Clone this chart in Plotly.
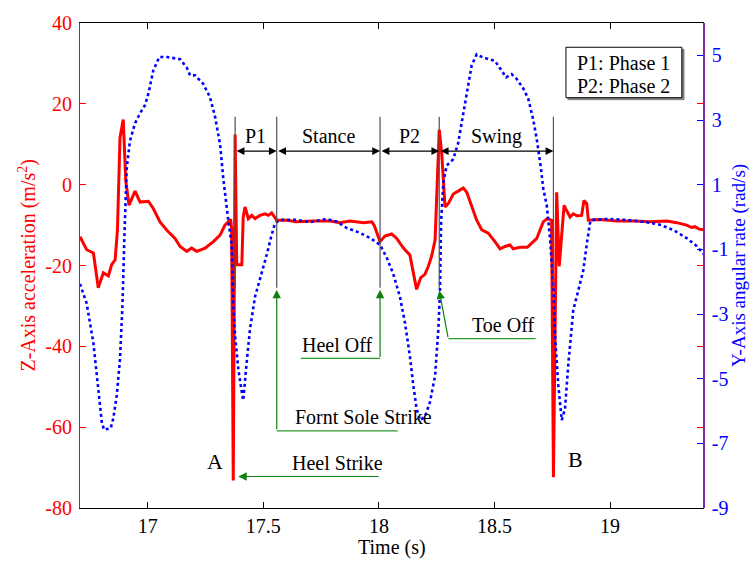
import plotly.graph_objects as go

# Z-axis acceleration (m/s^2) over time (s)
time_acc = [16.707, 16.736, 16.765, 16.786, 16.808, 16.830, 16.844, 16.859, 16.869, 16.880,
            16.894, 16.905, 16.919, 16.945, 16.967, 17.003, 17.024, 17.053, 17.082, 17.118,
            17.140, 17.169, 17.190, 17.212, 17.248, 17.284, 17.313, 17.334, 17.359, 17.363,
            17.370, 17.378, 17.385, 17.407, 17.413, 17.421, 17.435, 17.450, 17.464, 17.486,
            17.507, 17.522, 17.536, 17.558, 17.601, 17.644, 17.716, 17.788, 17.832, 17.875,
            17.933, 17.969, 17.979, 18.005, 18.026, 18.055, 18.077, 18.106, 18.134, 18.146,
            18.163, 18.181, 18.199, 18.214, 18.228, 18.243, 18.250, 18.261, 18.272, 18.279,
            18.286, 18.300, 18.322, 18.343, 18.365, 18.380, 18.401, 18.423, 18.445, 18.473,
            18.502, 18.524, 18.546, 18.567, 18.581, 18.610, 18.642, 18.661, 18.683, 18.697,
            18.711, 18.728, 18.747, 18.755, 18.769, 18.780, 18.801, 18.812, 18.827, 18.841,
            18.856, 18.877, 18.887, 18.899, 18.906, 18.957, 19.029, 19.100, 19.173, 19.245,
            19.288, 19.331, 19.353, 19.367, 19.385, 19.404]
acc_z = [-12.9, -16.1, -16.9, -25.5, -21.8, -22.6, -19.8, -18.6, -11.2, 11.6,
         16.1, 1.0, -5.1, -1.6, -4.3, -4.1, -5.9, -9.2, -11.2, -13.3,
         -15.3, -16.5, -15.7, -16.5, -15.7, -14.1, -12.5, -10.0, -8.6, -11.2,
         -73.2, 12.4, -19.8, -19.8, -8.0, -5.5, -8.4, -7.6, -8.4, -7.6,
         -7.2, -7.6, -7.0, -8.8, -8.8, -9.2, -9.0, -9.0, -9.4, -9.0,
         -9.4, -9.2, -10.0, -14.1, -12.7, -12.2, -13.3, -15.7, -17.4, -21.0,
         -25.9, -23.0, -22.2, -20.2, -17.7, -13.7, -4.7, 13.6, 7.5, 0.2,
         -5.5, -4.7, -2.3, -1.6, -0.8, -1.9, -5.5, -8.8, -11.2, -12.0,
         -14.1, -15.9, -15.3, -14.9, -15.9, -15.5, -15.5, -14.5, -13.3, -11.2,
         -9.2, -8.4, -8.8, -72.4, -1.9, -20.2, -5.1, -6.4, -8.0, -7.2,
         -7.7, -7.6, -3.9, -4.7, -8.8, -8.6, -9.0, -9.0, -9.2, -9.0,
         -9.4, -10.0, -10.6, -10.4, -11.0, -11.1]

# Y-axis angular rate (rad/s) over time (s)
time_gyro = [16.707, 16.736, 16.765, 16.786, 16.801, 16.811, 16.840, 16.851, 16.866, 16.880,
             16.891, 16.898, 16.909, 16.923, 16.945, 16.967, 16.988, 17.003, 17.024, 17.050,
             17.082, 17.140, 17.169, 17.183, 17.205, 17.240, 17.269, 17.291, 17.313, 17.327,
             17.339, 17.349, 17.363, 17.370, 17.378, 17.392, 17.407, 17.413, 17.428, 17.442,
             17.464, 17.493, 17.515, 17.536, 17.551, 17.572, 17.644, 17.702, 17.774, 17.817,
             17.861, 17.918, 17.962, 18.005, 18.034, 18.062, 18.091, 18.113, 18.134, 18.149,
             18.163, 18.178, 18.199, 18.221, 18.243, 18.257, 18.264, 18.269, 18.279, 18.293,
             18.322, 18.343, 18.365, 18.382, 18.401, 18.423, 18.452, 18.502, 18.524, 18.550,
             18.574, 18.596, 18.625, 18.646, 18.668, 18.683, 18.701, 18.711, 18.726, 18.740,
             18.755, 18.762, 18.776, 18.791, 18.805, 18.820, 18.841, 18.862, 18.884, 18.899,
             18.913, 18.920, 18.985, 19.072, 19.158, 19.216, 19.273, 19.331, 19.375, 19.407]
gyro_y = [-2.07, -2.68, -3.90, -5.32, -6.33, -6.58, -6.53, -6.23, -5.52, -4.40,
          -2.68, -0.85, 1.50, 2.35, 2.90, 3.21, 3.46, 3.82, 4.53, 4.95,
          4.95, 4.88, 4.62, 4.38, 4.38, 4.12, 3.71, 3.11, 2.24, 1.18,
          0.37, -0.14, -0.85, -2.68, -3.69, -4.71, -5.42, -5.67, -4.50, -3.49,
          -2.47, -1.76, -1.16, -0.55, -0.19, -0.09, -0.09, -0.16, -0.06, -0.14,
          -0.34, -0.49, -0.65, -0.86, -1.26, -1.76, -2.47, -3.28, -4.30, -5.21,
          -5.93, -6.28, -6.18, -5.72, -4.91, -3.49, -2.37, -0.14, 1.08, 1.59,
          1.79, 2.29, 3.21, 3.92, 4.68, 5.03, 4.93, 4.83, 4.58, 4.32,
          4.42, 4.27, 3.97, 3.66, 3.00, 2.40, 1.50, 0.87, 0.37, -0.65,
          -2.17, -3.69, -5.21, -6.28, -5.93, -4.50, -2.88, -2.27, -1.66, -0.85,
          -0.19, -0.09, -0.06, -0.09, -0.16, -0.24, -0.40, -0.65, -0.90, -1.16]

# Axis ticks
x_ticks = [17, 17.5, 18, 18.5, 19]
x_tick_text = ["17", "17.5", "18", "18.5", "19"]
acc_ticks = [-80, -60, -40, -20, 0, 20, 40]
acc_tick_text = ["-80", "-60", "-40", "-20", "0", "20", "40"]
gyro_ticks = [-9, -7, -5, -3, -1, 1, 3, 5]
gyro_tick_text = ["-9", "-7", "-5", "-3", "-1", "1", "3", "5"]

# Gait event times (s): heel strike A, front sole strike, heel off, toe off, heel strike B
event_times = [17.378, 17.558, 18.005, 18.261, 18.755]
phase_labels = ["P1", "Stance", "P2", "Swing"]

FONT = "Liberation Serif, Times New Roman, serif"
RED = "#ff0000"
BLUE = "#0000ff"
GREEN = "#2a9a2a"
GREEN_HEAD = "#108010"
TEXT_SIZE = 20

fig = go.Figure()
fig.add_trace(go.Scatter(x=time_acc, y=acc_z, mode="lines",
                         line=dict(color=RED, width=3), yaxis="y", showlegend=False))
fig.add_trace(go.Scatter(x=time_gyro, y=gyro_y, mode="lines",
                         line=dict(color=BLUE, width=2.6, dash="dot"), yaxis="y2",
                         showlegend=False))

shapes = []
annotations = []


def label(x, y, text, size=TEXT_SIZE, color="black", ref="data", angle=0):
    xr, yr = ("x", "y") if ref == "data" else ("paper", "paper")
    annotations.append(dict(x=x, y=y, xref=xr, yref=yr, text=text, showarrow=False,
                            xanchor="center", yanchor="middle", textangle=angle,
                            font=dict(family=FONT, size=size, color=color)))


# Vertical event markers and the phase arrows between them
line_top, line_bottom, arrow_y, label_y = 16.8, -25.5, 8.3, 12.0
for t in event_times:
    shapes.append(dict(type="line", xref="x", yref="y", x0=t, x1=t, y0=line_bottom, y1=line_top,
                       line=dict(color="#505050", width=1.2), layer="above"))
for i, name in enumerate(phase_labels):
    t0, t1 = event_times[i], event_times[i + 1]
    annotations.append(dict(x=t1, y=arrow_y, ax=t0, ay=arrow_y, xref="x", yref="y",
                            axref="x", ayref="y", text="", showarrow=True,
                            arrowhead=2, startarrowhead=2, arrowside="end+start",
                            arrowsize=1.3, startarrowsize=1.3, arrowwidth=1.2,
                            arrowcolor="black", standoff=0, startstandoff=0))
    label((t0 + t1) / 2, label_y, name)


# Green callouts for each gait event
def callout(head_x, head_y, corner_x, corner_y, end_x, text, text_x, text_y):
    annotations.append(dict(x=head_x, y=head_y, ax=corner_x, ay=corner_y, xref="x", yref="y",
                            axref="x", ayref="y", text="", showarrow=True, arrowhead=2,
                            arrowsize=1.4, arrowwidth=1.2, arrowcolor=GREEN_HEAD, standoff=0))
    shapes.append(dict(type="line", xref="x", yref="y", x0=corner_x, x1=end_x,
                       y0=corner_y, y1=corner_y, line=dict(color=GREEN, width=1.2), layer="above"))
    label(text_x, text_y, text)


callout(17.558, -26.0, 17.558, -60.9, 18.081, "Fornt Sole Strike", 17.932, -57.4)
callout(18.005, -26.0, 18.005, -43.0, 17.662, "Heel Off", 17.819, -39.6)
callout(18.261, -26.2, 18.300, -38.1, 18.678, "Toe Off", 18.535, -34.6)
callout(17.392, -72.2, 18.005, -72.2, 18.005, "Heel Strike", 17.821, -68.8)

# Heel strike markers
label(17.291, -68.5, "A", size=22)
label(18.851, -68.1, "B", size=22)

# Phase key box
shapes.append(dict(type="rect", xref="paper", yref="paper", x0=0.7832, x1=0.9695,
                   y0=0.8419, y1=0.9459, line=dict(color="#808080", width=1),
                   fillcolor="#808080", layer="above"))
shapes.append(dict(type="rect", xref="paper", yref="paper", x0=0.780, x1=0.966,
                   y0=0.846, y1=0.950, line=dict(color="black", width=1),
                   fillcolor="white", layer="above"))
label(0.873, 0.9165, "P1: Phase 1", ref="paper")
label(0.873, 0.870, "P2: Phase 2", ref="paper")

# Axis titles
label(-0.085, 0.5, "Z-Axis acceleration (m/s<sup>2</sup>)", color=RED, ref="paper", angle=-90)
label(1.057, 0.5, "Y-Axis angular rate (rad/s)", size=19, color=BLUE, ref="paper", angle=-90)
label(0.5, -0.0815, "Time (s)", ref="paper")

fig.update_layout(
    width=750, height=563,
    margin=dict(l=80, r=47, t=17, b=55),
    paper_bgcolor="white", plot_bgcolor="white",
    shapes=shapes, annotations=annotations,
    xaxis=dict(range=[16.707, 19.402], tickvals=x_ticks, ticktext=x_tick_text,
               ticks="inside", ticklen=6, tickcolor="black", showline=True,
               linecolor="black", linewidth=1.2, mirror="ticks", showgrid=False,
               zeroline=False, tickfont=dict(family=FONT, size=20, color="black"),
               ticklabelstandoff=0),
    yaxis=dict(range=[-80, 40], tickvals=acc_ticks, ticktext=acc_tick_text,
               ticks="inside", ticklen=6, tickcolor=RED, showline=True,
               linecolor=RED, linewidth=1.2, mirror="ticks", showgrid=False,
               zeroline=False, tickfont=dict(family=FONT, size=20, color=RED),
               ticklabelstandoff=3),
    yaxis2=dict(range=[-9, 6], tickvals=gyro_ticks, ticktext=gyro_tick_text,
                overlaying="y", side="right", ticks="inside", ticklen=6,
                tickcolor=BLUE, showline=True, linecolor="#7a2aa0", linewidth=1.5,
                showgrid=False, zeroline=False,
                tickfont=dict(family=FONT, size=20, color=BLUE), ticklabelstandoff=3),
)

fig.write_html("out.html")
